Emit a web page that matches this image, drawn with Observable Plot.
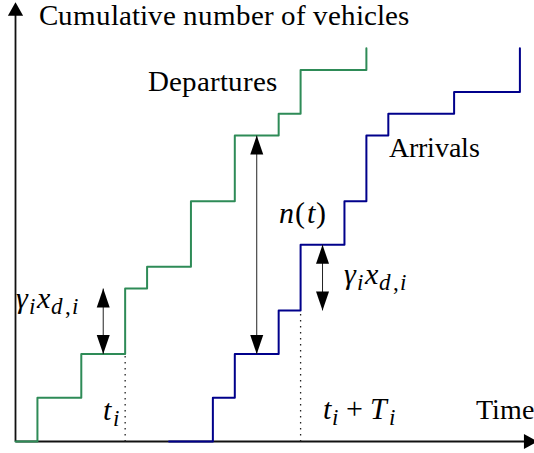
<!DOCTYPE html>
<html><head><meta charset="utf-8">
<script src="https://cdn.jsdelivr.net/npm/d3@7"></script>
<script src="https://cdn.jsdelivr.net/npm/@observablehq/plot@0.6"></script>
<style>
@font-face{font-family:"SerifLocal";font-style:normal;font-weight:400;src:local("Liberation Serif"),local("LiberationSerif"),local("Liberation Serif Regular"),local("Times New Roman")}
@font-face{font-family:"SerifLocal";font-style:italic;font-weight:400;src:local("Liberation Serif Italic"),local("LiberationSerif-Italic"),local("Times New Roman Italic")}
body{margin:0;background:#fff;font-family:"SerifLocal","Liberation Serif",serif}
svg{display:block}
</style>
</head><body><div id="chart"></div>
<script>
// Departures: step times and cumulative count after each step
const depTimes  = [0, 1, 3, 5, 6, 8, 10, 12, 13, 16];
const depCounts = [0, 2, 4, 7, 8, 11, 14, 15, 17, 18];
// Arrivals: step times and cumulative count after each step
const arrTimes  = [7, 9, 10, 12, 13, 15, 16, 17, 20, 23];
const arrCounts = [0, 2, 4, 6, 9, 11, 14, 15, 16, 18];
// Double-headed annotation arrows (time, lower count, upper count)
const arrowTimes = [4, 11, 14];
const arrowLow   = [4, 4, 6];
const arrowHigh  = [7, 14, 9];
// Dotted guides (time, count reached)
const guideTimes = [5, 13];
const guideTop   = [4, 6];
// Texts
const axisTitleY = "Cumulative number of vehicles";
const axisTitleX = "Time";
const seriesLabels = ["Departures", "Arrivals"];
const mathLabels = ["n(t)", "γ_i x_{d,i}", "γ_i x_{d,i}", "t_i", "t_i + T_i"];

const dep = depTimes.map((t, i) => ({t, n: depCounts[i]}));
const arr = arrTimes.map((t, i) => ({t, n: arrCounts[i]}));
const arrows = arrowTimes.map((t, i) => ({t, lo: arrowLow[i], hi: arrowHigh[i]}));
const guides = guideTimes.map((t, i) => ({t, top: guideTop[i]}));

const headSmall = {draw(c) { c.moveTo(0, 0); c.lineTo(6.5, 19); c.lineTo(-6.5, 19); c.closePath(); }};
const headAxis  = {draw(c) { c.moveTo(0, 0); c.lineTo(7.6, 13.5); c.lineTo(-7.6, 13.5); c.closePath(); }};

const FONT = "SerifLocal, 'Liberation Serif', 'Times New Roman', serif";
const MFS = 30; // math font size
const T = (txt, x, y, fs) => Plot.text([txt], {x, y, text: d => d, textAnchor: "start", lineAnchor: "bottom", fontSize: fs, fontFamily: FONT, fill: "#000"});

const plot = Plot.plot({
  width: 534, height: 453,
  marginLeft: 15, marginRight: 14.6, marginTop: 4, marginBottom: 12,
  x: {domain: [0, 23], axis: null},
  y: {domain: [0, 20], axis: null},
  marks: [
    // axes with arrowheads
    Plot.link([0], {x1: 0, y1: 0, x2: 23.3, y2: 0, stroke: "#111", strokeWidth: 1.8}),
    Plot.link([0], {x1: 0, y1: 0, x2: 0, y2: 19.7, stroke: "#111", strokeWidth: 1.8}),
    Plot.dot([0], {x: 23.8, y: 0, symbol: headAxis, rotate: 90, r: 5, fill: "#000", stroke: null}),
    Plot.dot([0], {x: 0, y: 20.1, symbol: headAxis, rotate: 0, r: 5, fill: "#000", stroke: null}),
    // dotted guides
    Plot.link(guides, {x1: "t", x2: "t", y1: 0, y2: "top", stroke: "#222", strokeWidth: 1.3, strokeDasharray: "1.5,4.5"}),
    // step curves
    Plot.line(dep, {x: "t", y: "n", curve: "step-after", stroke: "#2e8b57", strokeWidth: 2}),
    Plot.line(arr, {x: "t", y: "n", curve: "step-after", stroke: "#00008b", strokeWidth: 2}),
    // double arrows
    Plot.link(arrows, {x1: "t", x2: "t", y1: "lo", y2: "hi", stroke: "#222", strokeWidth: 1}),
    Plot.dot(arrows, {x: "t", y: "hi", symbol: headSmall, rotate: 0, r: 5, fill: "#000", stroke: null}),
    Plot.dot(arrows, {x: "t", y: "lo", symbol: headSmall, rotate: 180, r: 5, fill: "#000", stroke: null}),
    // plain texts
    T(axisTitleY, 1.05, 19.04, 29),
    T(seriesLabels[0], 6.06, 16.02, 29),
    T(seriesLabels[1], 17.05, 13.0, 28),
    T(axisTitleX, 21.02, 1.05, 28),
    // math texts
    T(mathLabels[0], 12.0, 9.98, MFS),
    T(mathLabels[1], 14.96, 7.19, MFS),
    T(mathLabels[2], 0.0, 6.13, MFS),
    T(mathLabels[3], 4.01, 1.0, MFS),
    T(mathLabels[4], 14.0, 1.05, MFS)
  ]
});
plot.setAttribute("font-family", FONT);

// typeset simple math labels: italic letters, upright punctuation, subscripts
function mathify(el, src, size) {
  const ns = "http://www.w3.org/2000/svg";
  el.textContent = "";
  el.style.setProperty("letter-spacing", "1.5px");
  let cur = 0, pendingDx = 0;
  const put = (ch, sub) => {
    const t = document.createElementNS(ns, "tspan");
    const target = sub ? size * 0.2 : 0;
    if (target !== cur) { t.setAttribute("dy", target - cur); cur = target; }
    if (pendingDx) { t.setAttribute("dx", pendingDx); pendingDx = 0; }
    t.setAttribute("font-size", sub ? size * 0.75 : size);
    t.setAttribute("font-style", /[A-Za-z\u03b1-\u03c9]/.test(ch) ? "italic" : "normal");
    t.textContent = ch;
    el.appendChild(t);
  };
  for (let i = 0; i < src.length; i++) {
    const ch = src[i];
    if (ch === " ") continue;
    if (ch === "_") {
      let grp;
      if (src[i + 1] === "{") { const j = src.indexOf("}", i); grp = src.slice(i + 2, j); i = j; }
      else { grp = src[i + 1]; i++; }
      for (const c of grp) put(c, true);
    } else if (ch === "+") {
      pendingDx = size * 0.2; put(ch, false); pendingDx = size * 0.2;
    } else put(ch, false);
  }
}
d3.select(plot).selectAll("text").each(function() {
  const s = this.textContent;
  this.style.setProperty("font-family", FONT, "important");
  if (mathLabels.includes(s)) mathify(this, s, MFS);
});

document.getElementById("chart").appendChild(plot);

// make sure the local serif faces are loaded, then refresh the text styling
if (document.fonts && document.fonts.load) {
  Promise.all([
    document.fonts.load("29px SerifLocal"),
    document.fonts.load("italic 30px SerifLocal")
  ]).then(() => {
    d3.select(plot).selectAll("text").each(function() {
      this.style.setProperty("font-family", FONT, "important");
    });
  }).catch(() => {});
}
</script>
</body></html>
